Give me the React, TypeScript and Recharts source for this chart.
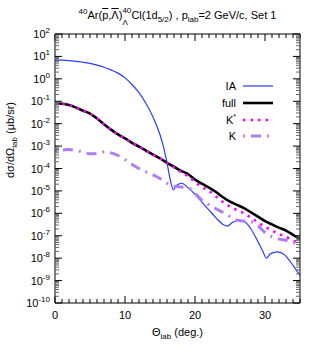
import { Legend, Line, LineChart, XAxis, YAxis } from 'recharts';

const FONT = '"Liberation Sans", Arial, Helvetica, sans-serif';

// scattering angle grid (deg.) shared by full / K* / K curves
const angles = [
  0, 1, 2, 3, 4, 5, 6, 7, 8, 9, 10, 11, 12, 13, 14, 15, 16, 17, 18, 19, 20, 21, 22, 23, 24, 25, 26, 27, 28, 29,
  30, 31, 32, 33, 34, 35,
];

// dσ/dΩ (μb/sr)
const fullValues = [
  8.1e-2, 7.8e-2, 6.8e-2, 5.2e-2, 3.8e-2, 2.8e-2, 1.7e-2, 9.5e-3, 5.4e-3, 3.3e-3, 2.2e-3, 1.4e-3, 9.5e-4, 6.3e-4,
  4.2e-4, 2.8e-4, 1.8e-4, 1.2e-4, 7.9e-5, 5.6e-5, 3.2e-5, 2.1e-5, 1.4e-5, 8.9e-6, 5.2e-6, 3.3e-6, 2.4e-6, 1.7e-6,
  1.1e-6, 7.1e-7, 4.5e-7, 3.2e-7, 2.3e-7, 1.7e-7, 1.1e-7, 7.1e-8,
];
const kStarValues = [
  8.1e-2, 7.8e-2, 6.8e-2, 5.2e-2, 3.8e-2, 2.8e-2, 1.7e-2, 9.5e-3, 5.4e-3, 3.3e-3, 2.2e-3, 1.4e-3, 9.5e-4, 6.3e-4,
  4.2e-4, 2.8e-4, 1.8e-4, 1.1e-4, 7.1e-5, 4.5e-5, 2.5e-5, 1.5e-5, 1.0e-5, 5.6e-6, 3.2e-6, 2.0e-6, 1.4e-6, 1.0e-6,
  6.3e-7, 4.0e-7, 2.5e-7, 1.7e-7, 1.2e-7, 8.9e-8, 6.3e-8, 4.2e-8,
];
const kValues = [
  6.3e-4, 6.6e-4, 7.1e-4, 6.3e-4, 5.4e-4, 4.5e-4, 4.7e-4, 5.5e-4, 5.0e-4, 3.8e-4, 2.5e-4, 1.5e-4, 1.0e-4, 7.1e-5,
  5.2e-5, 3.6e-5, 2.2e-5, 1.6e-5, 1.5e-5, 1.4e-5, 7.9e-6, 3.8e-6, 2.4e-6, 1.6e-6, 1.1e-6, 7.1e-7, 5.0e-7, 4.5e-7,
  4.2e-7, 2.8e-7, 1.4e-7, 8.9e-8, 7.1e-8, 6.3e-8, 5.0e-8, 3.5e-8,
];

// IA curve needs extra points around its diffraction minima
const iaAngles = [
  0, 1, 2, 3, 4, 5, 6, 7, 8, 9, 10, 11, 12, 13, 14, 15, 15.5, 16, 16.5, 16.9, 17.4, 18.1, 19, 20, 20.7, 22, 23, 24,
  24.6, 25.3, 26.3, 27.2, 28, 29, 29.7, 30.2, 30.8, 31.8, 32.8, 33.6, 34.3, 35,
];
const iaValues = [
  6.9, 6.8, 6.5, 6.0, 5.5, 4.9, 4.1, 3.3, 2.5, 1.8, 1.1, 0.56, 0.24, 7.9e-2, 2.0e-2, 3.2e-3, 9.3e-4, 1.8e-4, 2.8e-5,
  1.1e-5, 1.8e-5, 2.2e-5, 1.4e-5, 7.1e-6, 4.0e-6, 1.4e-6, 6.3e-7, 3.2e-7, 2.7e-7, 3.8e-7, 5.0e-7, 4.0e-7, 2.0e-7,
  5.4e-8, 2.0e-8, 1.0e-8, 1.6e-8, 1.9e-8, 1.4e-8, 7.1e-9, 3.5e-9, 1.7e-9,
];

const seriesNames = ['IA', 'full', 'K*', 'K'];
const yDecades = [-10, -9, -8, -7, -6, -5, -4, -3, -2, -1, 0, 1, 2];
const xMajorTicks = [0, 10, 20, 30];

const yTicks = yDecades.flatMap((d) =>
  d === 2 ? [100] : [1, 2, 3, 4, 5, 6, 7, 8, 9].map((m) => m * Math.pow(10, d)),
);
const xTicks = Array.from({ length: 36 }, (_, i) => i);

const toPoints = (xs: number[], ys: number[]) => xs.map((x, i) => ({ x, y: ys[i] }));

const isDecade = (v: number) => Math.abs(Math.log10(v) - Math.round(Math.log10(v))) < 1e-6;

function LeftTick({ x, y, payload }: any) {
  const v = payload.value;
  const major = isDecade(v);
  return (
    <g>
      <line x1={x} x2={x + (major ? 7 : 4)} y1={y} y2={y} stroke={major ? '#000' : '#666'} />
      {major && (
        <text x={x - 5} y={y + 4} textAnchor="end" fontSize={11} fontFamily={FONT} fill="#000">
          10
          <tspan dy={-5} fontSize={8}>
            {Math.round(Math.log10(v))}
          </tspan>
        </text>
      )}
    </g>
  );
}

function RightTick({ x, y, payload }: any) {
  const major = isDecade(payload.value);
  return <line x1={x} x2={x - (major ? 7 : 4)} y1={y} y2={y} stroke={major ? '#000' : '#666'} />;
}

function BottomTick({ x, y, payload }: any) {
  const major = xMajorTicks.includes(payload.value);
  return (
    <g>
      <line x1={x} x2={x} y1={y} y2={y - (major ? 7 : 4)} stroke="#000" />
      {major && (
        <text x={x} y={y + 16} textAnchor="middle" fontSize={11} fontFamily={FONT} fill="#000">
          {payload.value}
        </text>
      )}
    </g>
  );
}

function TopTick({ x, y, payload }: any) {
  const major = xMajorTicks.includes(payload.value);
  return <line x1={x} x2={x} y1={y} y2={y + (major ? 7 : 4)} stroke="#000" />;
}

function LegendBox({ payload }: any) {
  const items = [...(payload || [])].sort(
    (a: any, b: any) => seriesNames.indexOf(a.value) - seriesNames.indexOf(b.value),
  );
  return (
    <div style={{ fontFamily: FONT, fontSize: 11 }}>
      {items.map((entry: any) => (
        <div key={entry.value} style={{ display: 'flex', alignItems: 'center', height: 16.7 }}>
          <span style={{ width: 46, textAlign: 'right', marginRight: 7 }}>
            {entry.value === 'K*' ? (
              <>
                K<sup style={{ fontSize: 7, lineHeight: 0 }}>*</sup>
              </>
            ) : (
              entry.value
            )}
          </span>
          <svg width={32} height={10}>
            <line
              x1={0}
              x2={30}
              y1={5}
              y2={5}
              stroke={entry.color}
              strokeWidth={entry.payload?.strokeWidth}
              strokeDasharray={entry.payload?.strokeDasharray}
            />
          </svg>
        </div>
      ))}
    </div>
  );
}

export default function App() {
  return (
    <div
      style={{ position: 'absolute', left: 0, top: 0, width: 320, height: 350, fontFamily: FONT, color: '#000' }}
    >
      <LineChart width={320} height={350} margin={{ top: 0, right: 0, bottom: 0, left: 0 }}>
        <XAxis
          xAxisId="b"
          type="number"
          dataKey="x"
          domain={[0, 35]}
          ticks={xTicks}
          interval={0}
          allowDataOverflow
          height={47}
          tickSize={0}
          tickMargin={0}
          tickLine={false}
          axisLine={{ stroke: '#000' }}
          tick={<BottomTick />}
        />
        <XAxis
          xAxisId="t"
          orientation="top"
          type="number"
          dataKey="x"
          domain={[0, 35]}
          ticks={xTicks}
          interval={0}
          allowDataOverflow
          height={34}
          tickSize={0}
          tickMargin={0}
          tickLine={false}
          axisLine={{ stroke: '#000' }}
          tick={<TopTick />}
        />
        <YAxis
          yAxisId="l"
          scale="log"
          domain={[1e-10, 100]}
          ticks={yTicks}
          interval={0}
          allowDataOverflow
          width={55}
          tickSize={0}
          tickMargin={0}
          tickLine={false}
          axisLine={{ stroke: '#000' }}
          tick={<LeftTick />}
        />
        <YAxis
          yAxisId="r"
          orientation="right"
          scale="log"
          domain={[1e-10, 100]}
          ticks={yTicks}
          interval={0}
          allowDataOverflow
          width={20}
          tickSize={0}
          tickMargin={0}
          tickLine={false}
          axisLine={{ stroke: '#000' }}
          tick={<RightTick />}
        />
        <Legend
          layout="horizontal"
          verticalAlign="middle"
          align="center"
          content={<LegendBox />}
          wrapperStyle={{ left: 190, top: 78, width: 90, height: 70 }}
        />
        <Line
          xAxisId="b"
          yAxisId="l"
          name="IA"
          data={toPoints(iaAngles, iaValues)}
          dataKey="y"
          type="monotone"
          stroke="#2a3cff"
          strokeWidth={1.2}
          dot={false}
          isAnimationActive={false}
        />
        <Line
          xAxisId="b"
          yAxisId="l"
          name="full"
          data={toPoints(angles, fullValues)}
          dataKey="y"
          type="monotone"
          stroke="#000"
          strokeWidth={2.6}
          dot={false}
          isAnimationActive={false}
        />
        <Line
          xAxisId="b"
          yAxisId="l"
          name="K*"
          data={toPoints(angles, kStarValues)}
          dataKey="y"
          type="monotone"
          stroke="#ff00ff"
          strokeWidth={2.6}
          strokeDasharray="2.5 5"
          dot={false}
          isAnimationActive={false}
        />
        <Line
          xAxisId="b"
          yAxisId="l"
          name="K"
          data={toPoints(angles, kValues)}
          dataKey="y"
          type="monotone"
          stroke="#b27cf6"
          strokeWidth={3}
          strokeDasharray="2 6 10 6"
          dot={false}
          isAnimationActive={false}
        />
      </LineChart>

      <div
        style={{
          position: 'absolute',
          left: 0,
          top: 7,
          width: 355,
          textAlign: 'center',
          fontSize: 11,
          lineHeight: '16px',
          whiteSpace: 'nowrap',
        }}
      >
        <sup style={{ fontSize: 8, lineHeight: 0 }}>40</sup>Ar(
        <span style={{ textDecoration: 'overline' }}>p</span>,<span style={{ textDecoration: 'overline' }}>Λ</span>)
        <span style={{ display: 'inline-block', position: 'relative', width: 9, height: 1 }}>
          <span style={{ position: 'absolute', left: 0, top: -11, fontSize: 8, lineHeight: 1 }}>40</span>
          <span style={{ position: 'absolute', left: 0, top: 1, fontSize: 8, lineHeight: 1 }}>Λ</span>
        </span>
        Cl(1d<sub style={{ fontSize: 8, lineHeight: 0 }}>5/2</sub>) , p
        <sub style={{ fontSize: 8, lineHeight: 0 }}>lab</sub>=2 GeV/c, Set 1
      </div>

      <div
        style={{
          position: 'absolute',
          left: 10 - 80,
          top: 140 - 8,
          width: 160,
          height: 16,
          lineHeight: '16px',
          textAlign: 'center',
          fontSize: 11,
          transform: 'rotate(-90deg)',
          whiteSpace: 'nowrap',
        }}
      >
        dσ/dΩ<sub style={{ fontSize: 8, lineHeight: 0 }}>lab</sub> (μb/sr)
      </div>

      <div
        style={{
          position: 'absolute',
          left: 0,
          top: 324,
          width: 355,
          textAlign: 'center',
          fontSize: 11,
          lineHeight: '16px',
        }}
      >
        Θ<sub style={{ fontSize: 8, lineHeight: 0 }}>lab</sub> (deg.)
      </div>
    </div>
  );
}
